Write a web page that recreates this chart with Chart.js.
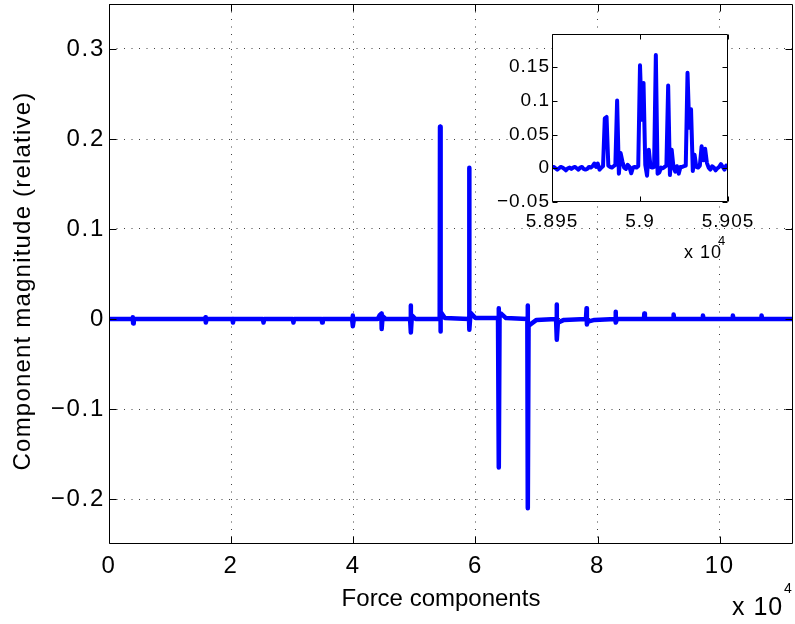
<!DOCTYPE html>
<html><head><meta charset="utf-8">
<script src="https://cdn.jsdelivr.net/npm/chart.js@4.4.0/dist/chart.umd.min.js"></script>
<style>
html,body{margin:0;padding:0;background:#fff;}
#wrap{position:relative;width:795px;height:624px;overflow:hidden;}
#main{position:absolute;left:0;top:0;}
#inset{position:absolute;left:480px;top:20px;}
</style></head><body>
<div id="wrap">
<canvas id="main" width="795" height="624"></canvas>
<canvas id="inset" width="300" height="290"></canvas>
</div>
<script>
// ---- data ----
const xTitle = 'Force components';
const yTitle = 'Component magnitude (relative)';
const mainXTicks = [0, 20000, 40000, 60000, 80000, 100000];
const mainYTicks = [-0.2, -0.1, 0, 0.1, 0.2, 0.3];
const mainX = [0, 3800, 3900, 3950, 4050, 15700, 15800, 15850, 16000, 20200, 20300, 20400,
  25200, 25300, 25400, 30100, 30200, 30300, 34800, 34900, 35000, 39800, 39900, 39950, 40100,
  44000, 44300, 44600, 44650, 44800, 45300, 49300, 49400, 49450, 49600, 50200,
  54150, 54200, 54250, 54350, 55000, 58900, 59100, 59200, 60000,
  63700, 63800, 63850, 63950, 64200, 65000, 68500, 68550, 68600, 68700, 69000, 70000,
  73200, 73300, 73350, 73500, 74500, 78100, 78200, 78250, 78400, 79500,
  82900, 82950, 83000, 83200, 87600, 87650, 87750, 92400, 92450, 92550,
  97200, 97250, 97350, 102100, 102150, 102250, 106800, 106850, 106950, 112000];
const mainY = [0, 0, 0.002, -0.005, 0, 0, 0.002, -0.004, 0, 0, -0.004, 0,
  0, -0.004, 0, 0, -0.004, 0, 0, -0.004, 0, 0, 0.004, -0.008, 0,
  0, 0.004, 0.006, -0.011, 0.003, 0, 0, 0.015, -0.015, 0.004, 0,
  0, 0.2137, -0.014, 0.008, 0.001, 0, -0.012, 0.007, 0.001,
  0.001, 0.012, -0.165, 0.002, 0.006, 0.001, 0, 0.015, -0.2103, -0.008, -0.006, -0.001,
  0, 0.016, -0.023, -0.004, -0.001, 0, 0.012, -0.006, -0.003, -0.001,
  0, 0.008, -0.004, 0, 0, 0.006, 0, 0, 0.005, 0,
  0, 0.004, 0, 0, 0.004, 0, 0, 0.004, 0, 0];
// inset: one value per component, starting at insetStart
const insetStart = 58950;
const insetY = [0.001, 0.002, 0.000, -0.002, 0.000, 0.002, 0.001, -0.001, -0.003, 0.000,
  0.001, -0.001, 0.001, 0.002, 0.000, -0.002, 0.001, 0.002, -0.001, -0.002,
  -0.001, 0.002, 0.001, 0.003, 0.007, 0.002, 0.007, -0.002, 0.001, 0.003,
  0.074, 0.076, 0.004, 0.002, 0.001, 0.003, 0.005, 0.1005, -0.008, 0.0225,
  0.010, 0.001, -0.001, 0.005, 0.002, -0.0075, 0.001, 0.002, 0.001, 0.003,
  0.1525, 0.072, 0.1265, 0.005, -0.011, 0.0275, 0.002, 0.001, 0.002, 0.168,
  -0.008, -0.006, 0.001, 0.000, 0.002, 0.004, 0.1225, -0.010, 0.0275, 0.002,
  -0.005, 0.003, -0.008, 0.002, 0.002, 0.003, 0.004, 0.1415, 0.060, 0.0875,
  -0.004, 0.020, 0.002, 0.001, 0.004, 0.0325, 0.012, 0.029, 0.008, 0.001,
  -0.002, 0.003, 0.001, -0.003, 0.000, 0.002, 0.006, 0.002, -0.002, 0.004, 0.003];
const insetXTicks = [58950, 59000, 59050];
const insetYTicks = [-0.05, 0, 0.05, 0.1, 0.15];

// ---- build ----
const FONT = '"Liberation Sans", Arial, Helvetica, sans-serif';
const fmt = v => String(parseFloat(v.toFixed(6))).replace('-', '\u2212');

const insetPts = insetY.map((y, i) => ({x: insetStart + i, y}));
const mainPts = mainX.map((x, i) => ({x, y: mainY[i]})).concat(insetPts).sort((a, b) => a.x - b.x);

function framePlugin(o) {
  return {
    id: 'frame_' + o.name,
    beforeDraw(chart) {
      const ctx = chart.ctx, a = chart.chartArea;
      ctx.letterSpacing = o.spacing;
      ctx.save();
      ctx.fillStyle = '#fff';
      if (o.fillAll) ctx.fillRect(0, 0, chart.width, chart.height);
      else ctx.fillRect(a.left, a.top, a.right - a.left, a.bottom - a.top);
      ctx.restore();
    },
    afterDatasetsDraw(chart) {
      const ctx = chart.ctx, a = chart.chartArea, xs = chart.scales.x, ys = chart.scales.y;
      const L = Math.round(a.left) + 0.5, R = Math.round(a.right) - 0.5;
      const T = Math.round(a.top) + 0.5, B = Math.round(a.bottom) - 0.5;
      ctx.save();
      ctx.setLineDash([]);
      ctx.strokeStyle = '#000'; ctx.lineWidth = 1;
      ctx.beginPath();
      ctx.moveTo(L, T); ctx.lineTo(R, T); ctx.lineTo(R, B); ctx.lineTo(L, B); ctx.closePath();
      o.xTicks.forEach(v => {
        const p = Math.round(xs.getPixelForValue(v)) + 0.5;
        ctx.moveTo(p, B); ctx.lineTo(p, B - o.tl);
        ctx.moveTo(p, T); ctx.lineTo(p, T + o.tl);
      });
      o.yTicks.forEach(v => {
        const p = Math.round(ys.getPixelForValue(v)) + 0.5;
        ctx.moveTo(L, p); ctx.lineTo(L + o.tl, p);
        ctx.moveTo(R, p); ctx.lineTo(R - o.tl, p);
      });
      ctx.stroke();
      ctx.restore();
    },
    afterDraw(chart) { if (o.texts) { const c = chart.ctx; c.save(); o.texts(c, chart); c.restore(); } }
  };
}

function axisCfg(ticksArr, fit, tickOpts, gridOn) {
  return {
    type: 'linear',
    afterBuildTicks: s => { s.ticks = ticksArr.map(v => ({value: v})); },
    afterFit: s => { fit(s); s.paddingLeft = 0; s.paddingRight = 0; s.paddingTop = 0; s.paddingBottom = 0; },
    ticks: Object.assign({color: '#000', autoSkip: false, maxRotation: 0, minRotation: 0}, tickOpts),
    grid: {display: gridOn, drawTicks: false, color: 'rgba(0,0,0,0.75)', lineWidth: 1},
    border: {display: false, dash: [1, 6.5]}
  };
}

new Chart(document.getElementById('main'), {
  type: 'line',
  data: {datasets: [{data: mainPts, borderColor: '#0000ff', borderWidth: 4.5, pointRadius: 0,
    tension: 0, borderJoinStyle: 'round', borderCapStyle: 'round', fill: false}]},
  options: {
    responsive: false, animation: false, devicePixelRatio: 1, parsing: false,
    layout: {padding: {top: 4, right: 2, left: 0, bottom: 0}},
    plugins: {legend: {display: false}, tooltip: {enabled: false}},
    scales: {
      x: Object.assign(axisCfg(mainXTicks, s => { s.height = 80; },
        {font: {family: FONT, size: 24}, padding: 8, callback: v => fmt(v / 10000)}, true), {min: 0, max: 112000}),
      y: Object.assign(axisCfg(mainYTicks, s => { s.width = 109; },
        {font: {family: FONT, size: 24}, padding: 4, callback: v => fmt(v)}, true), {min: -0.25, max: 0.35})
    }
  },
  plugins: [framePlugin({name: 'main', fillAll: true, tl: 7, spacing: '1.7px',
    xTicks: mainXTicks, yTicks: mainYTicks,
    texts: (ctx) => {
      ctx.fillStyle = '#000';
      ctx.font = '24px ' + FONT;
      ctx.textAlign = 'center'; ctx.textBaseline = 'alphabetic';
      ctx.letterSpacing = '0px';
      ctx.fillText(xTitle, 441, 606);
      ctx.letterSpacing = '1.2px';
      ctx.save(); ctx.translate(30, 281); ctx.rotate(-Math.PI / 2);
      ctx.fillText(yTitle, 0, 0); ctx.restore();
      ctx.textAlign = 'left';
      ctx.letterSpacing = '1px';
      ctx.font = '25px ' + FONT;
      ctx.fillText('x 10', 732, 615);
      ctx.font = '14px ' + FONT;
      ctx.fillText('4', 784, 593);
    }})]
});

new Chart(document.getElementById('inset'), {
  type: 'line',
  data: {datasets: [{data: insetPts, borderColor: '#0000ff', borderWidth: 4, pointRadius: 0,
    tension: 0, borderJoinStyle: 'round', borderCapStyle: 'round', fill: false}]},
  options: {
    responsive: false, animation: false, devicePixelRatio: 1, parsing: false,
    layout: {padding: {top: 14, right: 52, left: 0, bottom: 0}},
    plugins: {legend: {display: false}, tooltip: {enabled: false}},
    scales: {
      x: Object.assign(axisCfg(insetXTicks, s => { s.height = 108; },
        {font: {family: FONT, size: 19}, padding: 8, callback: v => fmt(v / 10000)}, false), {min: 58950, max: 59050}),
      y: Object.assign(axisCfg(insetYTicks, s => { s.width = 72; },
        {font: {family: FONT, size: 19}, padding: 2, callback: v => fmt(v)}, false), {min: -0.05, max: 0.199})
    }
  },
  plugins: [framePlugin({name: 'inset', fillAll: false, tl: 5, spacing: '1px',
    xTicks: insetXTicks, yTicks: insetYTicks,
    texts: (ctx) => {
      ctx.fillStyle = '#000';
      ctx.textAlign = 'left'; ctx.textBaseline = 'alphabetic';
      ctx.font = '18px ' + FONT;
      ctx.fillText('x 10', 204, 238);
      ctx.font = '13px ' + FONT;
      ctx.fillText('4', 238, 225);
    }})]
});
</script>
</body></html>
